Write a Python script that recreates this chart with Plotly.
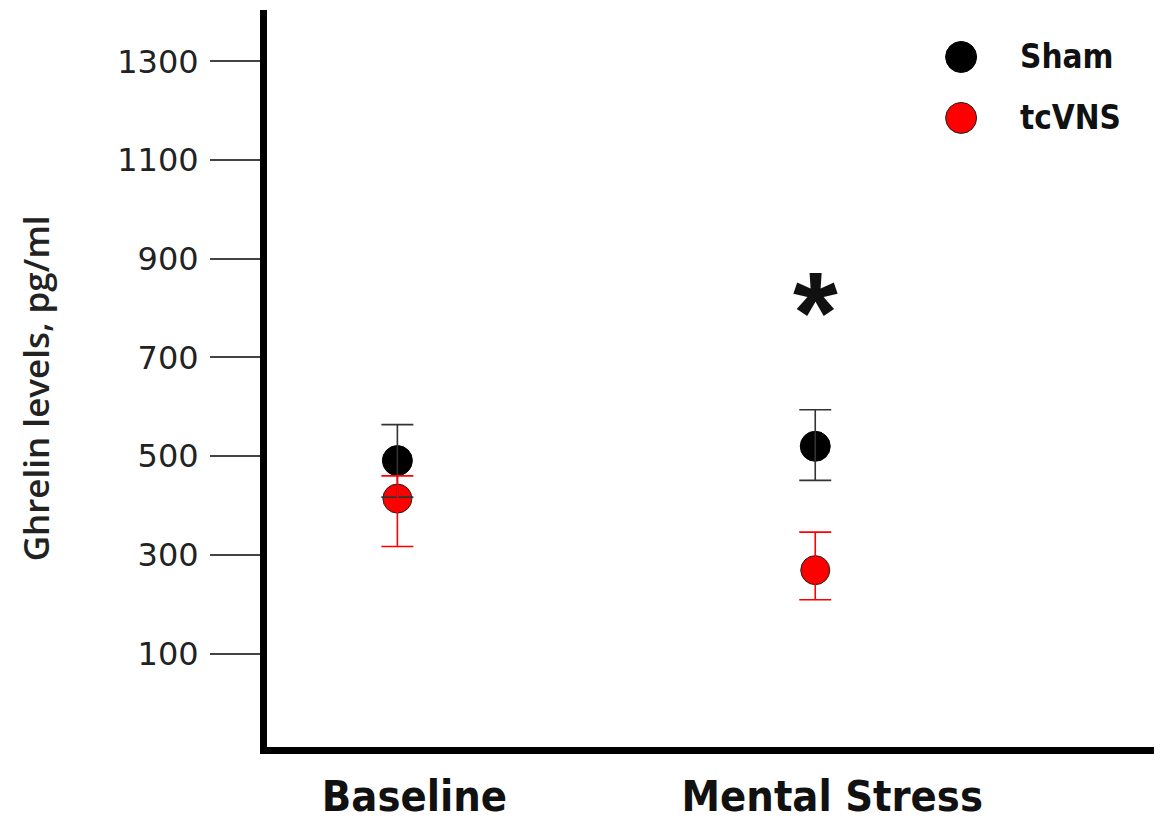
import plotly.graph_objects as go

# ---- data ----
categories = ["Baseline", "Mental Stress"]
cat_pos = [1, 2]
sham_mean = [491, 520]
sham_err_plus = [73, 74]
sham_err_minus = [74, 69]
tcvns_mean = [414, 269]
tcvns_err_plus = [46, 77]
tcvns_err_minus = [97, 60]
y_ticks = [100, 300, 500, 700, 900, 1100, 1300]
series_names = ["Sham", "tcVNS"]
y_title = "Ghrelin levels, pg/ml"
sig_label = "*"
sig_y = 810

SHAM_COLOR = "#000000"
TC_COLOR = "#ff0000"

# the page body has an 8px margin, so the figure is 8px smaller on each axis
OFF = 8
W, H = 1162 - OFF, 825 - OFF
L, R, T, B = 266.5 - OFF, 2, 10 - OFF, 77.5

fig = go.Figure()

# markers first
fig.add_trace(go.Scatter(x=cat_pos, y=sham_mean, mode="markers", name=series_names[0],
                         marker=dict(size=30, color=SHAM_COLOR, line=dict(color="#000", width=1)),
                         showlegend=False))
fig.add_trace(go.Scatter(x=cat_pos, y=tcvns_mean, mode="markers", name=series_names[1],
                         marker=dict(size=29, color=TC_COLOR, line=dict(color="#222", width=1)),
                         showlegend=False))
# error bars drawn on top of all markers
fig.add_trace(go.Scatter(x=cat_pos, y=sham_mean, mode="markers", showlegend=False,
                         marker=dict(size=1, color="rgba(0,0,0,0)"),
                         error_y=dict(type="data", symmetric=False, array=sham_err_plus,
                                      arrayminus=sham_err_minus, color="#333", thickness=1.6, width=16)))
fig.add_trace(go.Scatter(x=cat_pos, y=tcvns_mean, mode="markers", showlegend=False,
                         marker=dict(size=1, color="rgba(0,0,0,0)"),
                         error_y=dict(type="data", symmetric=False, array=tcvns_err_plus,
                                      arrayminus=tcvns_err_minus, color=TC_COLOR, thickness=1.6, width=16)))

# significance star
fig.add_annotation(x=cat_pos[1], y=sig_y, xref="x", yref="y", text="<b>" + sig_label + "</b>",
                   showarrow=False, font=dict(family="Liberation Sans, Arial", size=115, color="#111"),
                   yanchor="middle", xanchor="center", yshift=-9)

pw = W - L - R
ph = H - T - B
def px2paper(px, py):
    # page pixel -> paper fraction
    return (px - OFF - L) / pw, (H - B - (py - OFF)) / ph

# y-axis title as a rotated annotation
ttx, tty = px2paper(35, 389)
fig.add_annotation(x=ttx, y=tty, xref="paper", yref="paper", text=y_title, textangle=-90,
                   showarrow=False, xanchor="center", yanchor="middle",
                   font=dict(family="Open Sans", size=35, color="#222", weight=600))

# manual legend (large keys)
legend_items = [(series_names[0], SHAM_COLOR, "#000", 57), (series_names[1], TC_COLOR, "#222", 118)]
for name, fc, lc, py in legend_items:
    cx, cy = px2paper(961, py)
    rx = 15.5 / pw
    ry = 15.5 / ph
    fig.add_shape(type="circle", xref="paper", yref="paper", x0=cx - rx, x1=cx + rx, y0=cy - ry, y1=cy + ry,
                  fillcolor=fc, line=dict(color=lc, width=1))
    tx, ty = px2paper(1018, py)
    fig.add_annotation(x=tx, y=ty, xref="paper", yref="paper", text="<b>" + name + "</b>", showarrow=False,
                       xanchor="left", yanchor="middle",
                       font=dict(family="DejaVu Sans Condensed, Arial", size=33, color="#111"))

fig.update_layout(
    width=W, height=H,
    margin=dict(l=L, r=R, t=T, b=B, pad=0),
    paper_bgcolor="white", plot_bgcolor="white",
    showlegend=False,
    xaxis=dict(range=[0.688, 2.825], tickmode="array", tickvals=cat_pos, automargin=False,
               ticktext=["<b>" + c + "</b>" for c in categories],
               tickfont=dict(family="DejaVu Sans Condensed, Arial", size=43, color="#111"),
               showline=True, linecolor="black", linewidth=7, ticks="", showgrid=False, zeroline=False,
               ticklabelshift=17, ticklabelstandoff=5),
    yaxis=dict(range=[-89.5, 1404.3], tickmode="array", tickvals=y_ticks, automargin=False,
               ticktext=[str(v) for v in y_ticks],
               tickfont=dict(family="DejaVu Sans", size=32, color="#222"),
               showline=True, linecolor="black", linewidth=7, ticks="outside", ticklen=50,
               tickwidth=1.5, tickcolor="#444", showgrid=False, zeroline=False, ticklabelstandoff=5),
)

fig.write_html("out.html")
